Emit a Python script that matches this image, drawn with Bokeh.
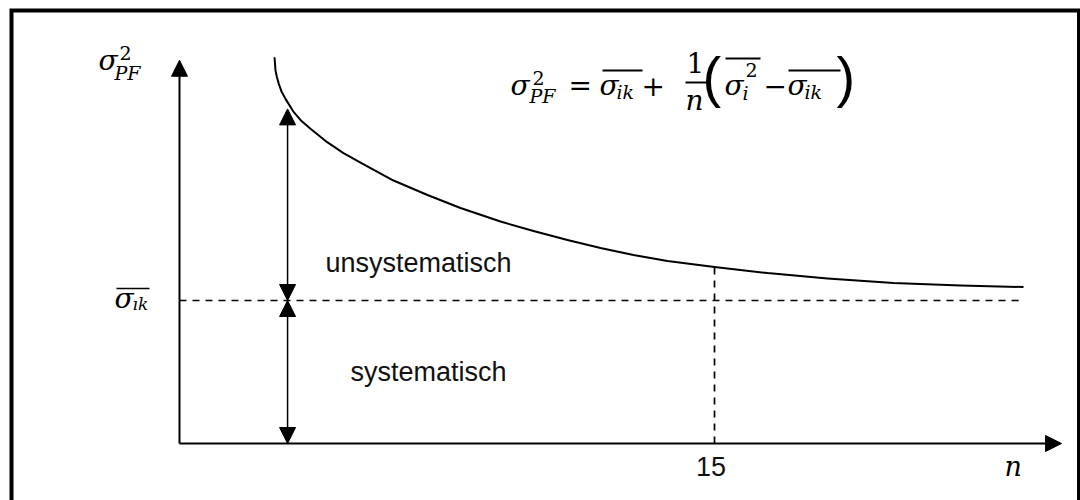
from bokeh.plotting import figure
from bokeh.models import Arrow, NormalHead
from bokeh.embed import file_html
from bokeh.resources import INLINE
from bokeh.core.properties import value

# ---------------- data ----------------
n_curve = [2.664, 2.692, 2.734, 2.784, 2.860, 2.972, 3.205, 3.421, 3.673, 4.141,
           4.598, 5.075, 6.000, 6.953, 7.878, 9.000, 9.925, 10.878, 11.804,
           12.729, 13.682, 15.000, 16.486, 18.168, 20.019, 21.897, 23.663]
var_curve = [2.701, 2.608, 2.559, 2.515, 2.462, 2.410, 2.317, 2.255, 2.201, 2.107,
             2.031, 1.965, 1.839, 1.738, 1.647, 1.552, 1.486, 1.423, 1.367,
             1.318, 1.276, 1.234, 1.192, 1.154, 1.122, 1.105, 1.094]
sigma_ik = 1.0            # systematic level (asymptote)
n_end = 23.66             # end of the dashed asymptote line
n_mark = 15               # marked number of stocks
var_at_mark = 1.234       # curve value at n = 15
arrow_n = 3.03            # position of the double arrows
arrow_top = 2.34          # curve value at the arrow position
x_axis_end = 24.73
y_axis_end = 2.68
tick_labels = ["15"]
x_label = "n"
region_labels = ["unsystematisch", "systematisch"]

# ---------------- page geometry ----------------
W, H = 1080, 500
PX_X0, PX_PER_N = 179.0, 35.667     # canvas px of n = 0, px per unit n
PX_Y0, PX_PER_V = 443.0, 143.0      # canvas px of var = 0, px per unit var
K = 0.39                            # baseline correction (fraction of font size)


def X(px):
    return (px - PX_X0) / PX_PER_N


def Y(py):
    return (PX_Y0 - py) / PX_PER_V


p = figure(width=W, height=H, x_range=(X(0), X(W)), y_range=(Y(H), Y(0)),
           output_backend="svg", toolbar_location=None, min_border=0)
p.axis.visible = False
p.grid.visible = False
p.outline_line_color = None
p.background_fill_color = "white"
p.border_fill_color = "white"

# frame (left, top, right; bottom edge lies below the page)
p.line([X(11), X(11), X(1078.5), X(1078.5)], [Y(520), Y(10), Y(10), Y(520)],
       line_color="black", line_width=4, line_join="miter")


def head():
    return NormalHead(size=16, fill_color="black", line_color="black", line_width=1)


# axes with arrow heads
p.add_layout(Arrow(x_start=0, y_start=0, x_end=0, y_end=y_axis_end, end=head(),
                   line_color="black", line_width=2))
p.add_layout(Arrow(x_start=0, y_start=0, x_end=x_axis_end, y_end=0, end=head(),
                   line_color="black", line_width=2))

# curve
p.line(n_curve, var_curve, line_color="black", line_width=2, line_join="round")

# dashed lines
p.line([0, n_end], [sigma_ik, sigma_ik], line_color="black", line_width=1.7, line_dash="7 6")
p.line([n_mark, n_mark], [0, var_at_mark], line_color="black", line_width=1.7, line_dash="7 6")

# double arrows
p.add_layout(Arrow(x_start=arrow_n, y_start=sigma_ik, x_end=arrow_n, y_end=arrow_top,
                   start=head(), end=head(), line_color="black", line_width=1.5))
p.add_layout(Arrow(x_start=arrow_n, y_start=0, x_end=arrow_n, y_end=sigma_ik,
                   start=head(), end=head(), line_color="black", line_width=1.5))

SANS = "Liberation Sans"
MATH = "DejaVu Serif"
SANS_SIZE = 27


def sans(x, py, s, align="left"):
    p.text(x=[x], y=[Y(py - K * SANS_SIZE)], text=[s], text_font=value(SANS),
           text_font_size=f"{SANS_SIZE}px", text_color="#111111",
           text_baseline="alphabetic", text_align=align)


# region labels, tick label
sans(X(325), 273, region_labels[0])
sans(X(350), 382, region_labels[1])
sans(n_mark - X(PX_X0 + 3.5), 477, tick_labels[0], "center")

M, S, SS = 28, 19, 17


def t(px, py, s, size=M, style="italic", font=MATH):
    p.text(x=[X(px)], y=[Y(py - K * size)], text=[s], text_font=value(font),
           text_font_style=style, text_font_size=f"{size}px", text_color="black",
           text_baseline="alphabetic", text_align="left")


def bar(x0, x1, py, w=1.8):
    p.segment(x0=[X(x0)], y0=[Y(py)], x1=[X(x1)], y1=[Y(py)], line_color="black", line_width=w)


# x label
t(1004, 477, x_label, 27)

# y-axis label  sigma^2_PF
t(98, 71, "σ")
t(119, 60, "2", S, "normal")
t(114, 80, "PF", S)

# sigma_ik label on the left
t(114, 309, "σ")
t(132, 310, "ık", SS)
bar(116, 149, 288, 1.5)

# formula
B = 96
t(510, B, "σ")
t(532, 85, "2", S, "normal")
t(529, B + 7, "PF", S)
t(568, B, "=", M, "normal")
t(599, B, "σ")
t(616, B + 3, "ik", S)
bar(602, 642, 70)
t(641, B, "+", M, "normal")
t(686, 73, "1", M, "normal")
bar(685, 706, 82)
t(685, 111, "n")
t(702, 98, "(", 56, "normal", SANS)
bar(725, 760, 58)
t(724, B, "σ")
t(745, 77, "2", S, "normal")
t(742, B + 4, "i", S)
t(763, B, "−", M, "normal")
bar(788, 840, 70)
t(787, B, "σ")
t(804, B + 3, "ik", S)
t(836, 98, ")", 56, "normal", SANS)

open("out.html", "w").write(file_html(p, INLINE))
